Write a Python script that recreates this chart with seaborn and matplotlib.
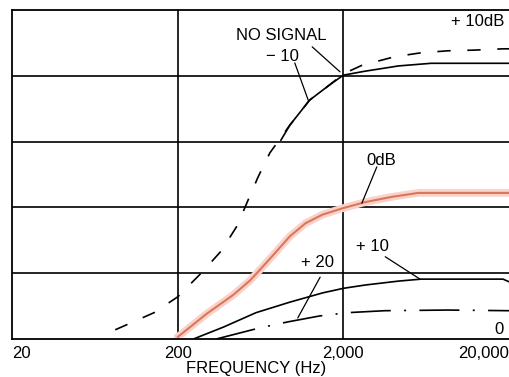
import matplotlib
matplotlib.use("Agg")
import matplotlib.pyplot as plt
import seaborn as sns

# Frequency response curves (frequency in Hz, level in grid divisions)
no_signal_freq = [84, 144, 200, 282, 367, 457, 532, 611, 721, 951, 1251, 1649, 2000, 2594, 4084, 5907, 8550, 12200, 18400, 20000]
no_signal_level = [0.14, 0.40, 0.64, 1.02, 1.34, 1.72, 2.11, 2.46, 2.83, 3.25, 3.63, 3.86, 4.03, 4.16, 4.29, 4.35, 4.38, 4.39, 4.41, 4.41]

minus10_freq = [839, 951, 1251, 1649, 2000, 2704, 4306, 6772, 11000, 20000]
minus10_level = [3.02, 3.25, 3.63, 3.86, 4.01, 4.07, 4.15, 4.19, 4.19, 4.19]

zero_db_freq = [200, 298, 433, 547, 637, 751, 951, 1183, 1496, 2000, 2704, 3916, 5666, 10000, 20000]
zero_db_level = [0.03, 0.38, 0.67, 0.89, 1.07, 1.27, 1.56, 1.76, 1.89, 1.99, 2.08, 2.16, 2.22, 2.22, 2.22]

plus10_freq = [249, 377, 594, 951, 1496, 2000, 2704, 4306, 5907, 12000, 18400, 20000]
plus10_level = [0.00, 0.18, 0.40, 0.56, 0.70, 0.77, 0.82, 0.88, 0.91, 0.91, 0.91, 0.87]

plus20_freq = [342, 628, 925, 1437, 2113, 3557, 8550, 20000]
plus20_level = [0.00, 0.17, 0.26, 0.35, 0.40, 0.43, 0.44, 0.43]

tick_freqs = [20, 200, 2000, 20000]
tick_labels = ["20", "200", "2,000", "20,000"]

sns.set_theme(style="white")
plt.rcParams["font.family"] = ["Liberation Sans", "DejaVu Sans"]
plt.rcParams["text.color"] = "black"
plt.rcParams["xtick.color"] = "black"
plt.rcParams["axes.labelcolor"] = "black"

fig = plt.figure(figsize=(5.09, 3.77), dpi=100)
ax = fig.add_axes([12 / 509, 38 / 377, 497 / 509, 329 / 377])

ax.set_xscale("log")
ax.set_xlim(20, 20000)
ax.set_ylim(0, 5)

# grid
for lvl in [1, 2, 3, 4]:
    ax.axhline(lvl, color="black", lw=1.2, zorder=1)
for f in [200, 2000]:
    ax.axvline(f, color="black", lw=1.2, zorder=1)

lw = 1.2
sns.lineplot(x=no_signal_freq, y=no_signal_level, ax=ax, color="black", lw=lw,
             zorder=3).lines[-1].set_dashes((8, 10))
sns.lineplot(x=minus10_freq, y=minus10_level, ax=ax, color="black", lw=lw, zorder=3)
sns.lineplot(x=zero_db_freq, y=zero_db_level, ax=ax, color="#f8d2cb", lw=5.5, zorder=2)
sns.lineplot(x=zero_db_freq, y=zero_db_level, ax=ax, color="#dc7658", lw=1.5, zorder=3)
sns.lineplot(x=plus10_freq, y=plus10_level, ax=ax, color="black", lw=lw, zorder=3)
sns.lineplot(x=plus20_freq, y=plus20_level, ax=ax, color="black", lw=lw,
             zorder=3).lines[-1].set_dashes((24, 8, 1.2, 8))

# frame
for side in ["top", "left", "bottom"]:
    ax.spines[side].set_color("black")
    ax.spines[side].set_linewidth(1.3)
ax.spines["right"].set_visible(False)

ax.set_yticks([])
ax.set_xticks(tick_freqs)
ax.set_xticklabels(tick_labels, fontsize=12, color="black")
ax.xaxis.set_minor_locator(matplotlib.ticker.NullLocator())
ax.tick_params(axis="x", length=0, pad=5, labelcolor="black")
labs = ax.get_xticklabels()
labs[0].set_ha("left")
labs[-1].set_ha("right")

ax.set_xlabel("FREQUENCY (Hz)", fontsize=12, color="black")
ax.xaxis.set_label_coords(0.491, -0.066)

# curve labels with leader lines
txt = dict(fontsize=12, color="black", ha="center", va="center", transform=ax.transAxes)
ax.text(0.541, 0.921, "NO SIGNAL", **txt)
ax.text(0.545, 0.860, "− 10", **txt)
ax.text(0.938, 0.964, "+ 10dB", **txt)
ax.text(0.742, 0.544, "0dB", **txt)
ax.text(0.726, 0.280, "+ 10", **txt)
ax.text(0.614, 0.234, "+ 20", **txt)
ax.text(0.980, 0.030, "0", **txt)

leaders = [
    ((0.604, 0.888), (0.660, 0.812)),
    ((0.569, 0.839), (0.596, 0.726)),
    ((0.734, 0.523), (0.704, 0.413)),
    ((0.751, 0.250), (0.821, 0.182)),
    ((0.620, 0.188), (0.575, 0.064)),
]
for (x0, y0), (x1, y1) in leaders:
    ax.plot([x0, x1], [y0, y1], color="black", lw=0.9, transform=ax.transAxes, zorder=4)

fig.savefig("out.png", dpi=100)
